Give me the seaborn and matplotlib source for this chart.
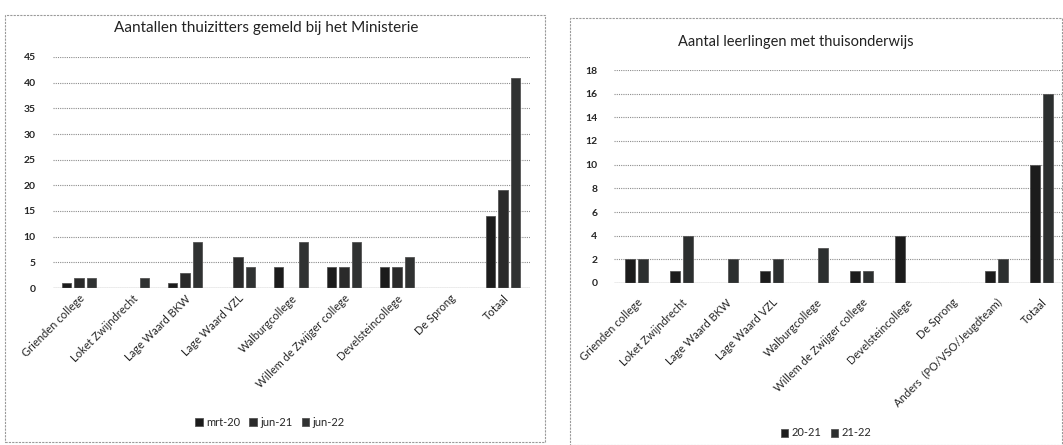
import numpy as np
import pandas as pd
import matplotlib
matplotlib.use("Agg")
import matplotlib.pyplot as plt
import seaborn as sns
from matplotlib.patches import Rectangle

# data: left chart (thuiszitters)
schools_left = ["Grienden college", "Loket Zwijndrecht", "Lage Waard BKW", "Lage Waard VZL",
                "Walburgcollege", "Willem de Zwijger college", "Develsteincollege", "De Sprong", "Totaal"]
mrt_20 = [1, 0, 1, 0, 4, 4, 4, 0, 14]
jun_21 = [2, 0, 3, 6, 0, 4, 4, 0, 19]
jun_22 = [2, 2, 9, 4, 9, 9, 6, 0, 41]
series_left = ["mrt-20", "jun-21", "jun-22"]

# data: right chart (thuisonderwijs)
schools_right = ["Grienden college", "Loket Zwijndrecht", "Lage Waard BKW", "Lage Waard VZL",
                 "Walburgcollege", "Willem de Zwijger college", "Develsteincollege", "De Sprong",
                 "Anders  (PO/VSO/Jeugdteam)", "Totaal"]
y_20_21 = [2, 1, 0, 1, 0, 1, 4, 0, 1, 10]
y_21_22 = [2, 4, 2, 2, 3, 1, 0, 0, 2, 16]
series_right = ["20-21", "21-22"]

title_left = "Aantallen thuizitters gemeld bij het Ministerie"
title_right = "Aantal leerlingen met thuisonderwijs"

df_left = pd.DataFrame({"School": schools_left * 3,
                        "Periode": np.repeat(series_left, len(schools_left)),
                        "Aantal": mrt_20 + jun_21 + jun_22})
df_right = pd.DataFrame({"School": schools_right * 2,
                         "Periode": np.repeat(series_right, len(schools_right)),
                         "Aantal": y_20_21 + y_21_22})

sns.set_style("white")
plt.rcParams["font.family"] = ["Lato", "DejaVu Sans"]

fig = plt.figure(figsize=(10.63, 4.45), dpi=100)

# panel borders like the scanned excel chart frames
fig.patches.append(Rectangle((5 / 1063, 1 - 442 / 445), 540 / 1063, 427 / 445, transform=fig.transFigure,
                             fill=False, ec="#9a9a9a", lw=0.8, ls=(0, (2, 1))))
fig.patches.append(Rectangle((570 / 1063, 0.0), 492 / 1063, 1 - 18 / 445, transform=fig.transFigure,
                             fill=False, ec="#9a9a9a", lw=0.8, ls=(0, (2, 1))))

ax1 = fig.add_axes([52.5 / 1063, 1 - 288 / 445, 477 / 1063, 231 / 445])
ax2 = fig.add_axes([614 / 1063, 1 - 283 / 445, 450 / 1063, 213 / 445])


def style_axis(ax, ymax, step, xpad):
    ticks = np.arange(0, ymax + 1, step)
    ax.set_ylim(0, ymax)
    ax.set_yticks(ticks)
    ax.set_yticklabels([str(t) for t in ticks], fontweight="bold", fontsize=7.5)
    ax.yaxis.grid(True, color="#8c8c8c", ls=(0, (1, 1)), lw=0.8)
    ax.set_axisbelow(True)
    for s in ax.spines.values():
        s.set_visible(False)
    ax.axhline(0, color="#8c8c8c", lw=0.9)
    ax.tick_params(axis="y", length=0, pad=12)
    ax.tick_params(axis="x", length=0, pad=xpad, labelsize=8)
    plt.setp(ax.get_xticklabels(), rotation=45, ha="right", rotation_mode="anchor")
    ax.set_xlabel("")
    ax.set_ylabel("")


sns.barplot(data=df_left, x="School", y="Aantal", hue="Periode", ax=ax1,
            palette=["#1c1c1c", "#2a2a2a", "#303232"], width=0.71, gap=0.24,
            edgecolor="#555555", linewidth=0.6)
ax1.set_xlim(-0.5, len(schools_left) - 0.5)
style_axis(ax1, 45, 5, 3.5)
ax1.legend(loc="center", bbox_to_anchor=(270 / 1063, 1 - 422 / 445), bbox_transform=fig.transFigure,
           ncol=3, frameon=False, fontsize=8, handlelength=0.7, handleheight=0.7,
           handletextpad=0.3, columnspacing=0.8)

sns.barplot(data=df_right, x="School", y="Aantal", hue="Periode", ax=ax2,
            palette=["#1c1c1c", "#2b302f"], width=0.58, gap=0.23,
            edgecolor="#555555", linewidth=0.6)
ax2.set_xlim(-0.5, len(schools_right) - 0.5)
style_axis(ax2, 18, 2, 10)
ax2.legend(loc="center", bbox_to_anchor=(826 / 1063, 1 - 433 / 445), bbox_transform=fig.transFigure,
           ncol=2, frameon=False, fontsize=8, handlelength=0.7, handleheight=0.7,
           handletextpad=0.3, columnspacing=0.8)

fig.text(266 / 1063, 1 - 28 / 445, title_left, ha="center", va="center", fontsize=11, color="#222222")
fig.text(796 / 1063, 1 - 42 / 445, title_right, ha="center", va="center", fontsize=10.5, color="#222222")

fig.savefig("out.png", dpi=100)
